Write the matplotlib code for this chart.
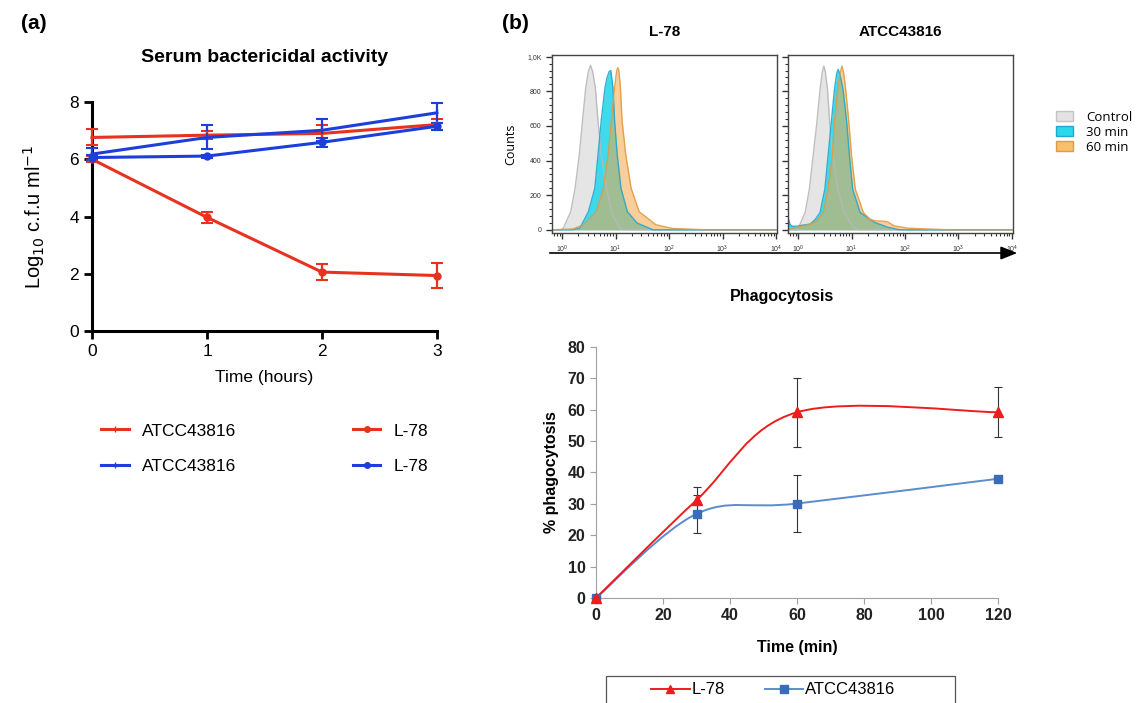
import matplotlib
matplotlib.use("Agg")
import matplotlib.pyplot as plt
from matplotlib.path import Path
from matplotlib.patches import PathPatch, Patch, Rectangle, FancyArrowPatch
from matplotlib.lines import Line2D
from matplotlib.ticker import MultipleLocator, FixedLocator, FixedFormatter, LogLocator, NullFormatter

plt.rcParams['font.family'] = ['Liberation Sans', 'DejaVu Sans']

# ---------------- (a) serum bactericidal activity ----------------
hours = [0, 1, 2, 3]
atcc_red = [6.76, 6.84, 6.90, 7.21]
atcc_red_err = [0.28, 0.15, 0.30, 0.20]
l78_red = [6.00, 3.97, 2.06, 1.94]
l78_red_err = [0.10, 0.20, 0.27, 0.43]
atcc_blue = [6.18, 6.76, 7.01, 7.62]
atcc_blue_err = [0.20, 0.42, 0.38, 0.36]
l78_blue = [6.06, 6.11, 6.59, 7.15]
l78_blue_err = [0.10, 0.05, 0.15, 0.12]

# ---------------- (b) flow cytometry histograms (log10 FL, counts) ----------------
l78_ctrl_x = [-0.2, -0.02, 0.02, 0.16, 0.24, 0.32, 0.38, 0.44, 0.49, 0.53, 0.57, 0.62, 0.67, 0.73, 0.83, 0.92, 1.07, 1.15, 4.0]
l78_ctrl_y = [0, 0, 10, 105, 240, 433, 630, 820, 915, 950, 915, 820, 630, 433, 240, 105, 10, 0, 0]
l78_30_x = [-0.2, 0.2, 0.33, 0.49, 0.61, 0.67, 0.73, 0.8, 0.84, 0.88, 0.91, 0.95, 0.98, 1.03, 1.1, 1.22, 1.4, 1.7, 4.0]
l78_30_y = [0, 0, 10, 105, 240, 433, 630, 820, 880, 915, 920, 820, 630, 433, 240, 105, 40, 0, 0]
l78_60_x = [-0.2, 0.2, 0.4, 0.64, 0.77, 0.86, 0.92, 0.98, 1.02, 1.04, 1.06, 1.09, 1.12, 1.19, 1.29, 1.44, 1.75, 2.06, 2.5, 2.7, 4.0]
l78_60_y = [0, 5, 30, 105, 240, 433, 630, 820, 920, 937, 920, 820, 630, 433, 240, 105, 30, 8, 3, 0, 0]

atcc_ctrl_x = [-0.2, 0.0, 0.01, 0.13, 0.21, 0.28, 0.35, 0.41, 0.45, 0.48, 0.51, 0.55, 0.59, 0.65, 0.74, 0.86, 1.04, 1.15, 4.0]
atcc_ctrl_y = [0, 0, 15, 100, 235, 427, 619, 811, 910, 946, 910, 811, 619, 427, 235, 100, 10, 0, 0]
atcc_30_x = [-0.2, -0.15, -0.1, 0.0, 0.1, 0.22, 0.32, 0.41, 0.5, 0.56, 0.62, 0.68, 0.72, 0.75, 0.78, 0.84, 0.91, 0.96, 1.02, 1.16, 1.44, 1.68, 1.9, 4.0]
atcc_30_y = [80, 30, 20, 22, 28, 33, 60, 100, 235, 427, 619, 811, 900, 927, 900, 811, 619, 427, 235, 100, 42, 15, 0, 0]
atcc_60_x = [-0.2, -0.1, 0.0, 0.22, 0.35, 0.47, 0.56, 0.64, 0.68, 0.74, 0.79, 0.82, 0.85, 0.89, 0.95, 1.0, 1.07, 1.22, 1.35, 1.44, 1.6, 1.68, 1.8, 2.05, 2.5, 2.9, 4.0]
atcc_60_y = [0, 10, 15, 33, 50, 100, 235, 427, 619, 811, 910, 946, 910, 811, 619, 427, 235, 100, 60, 52, 50, 45, 23, 10, 4, 0, 0]

# ---------------- (b) phagocytosis ----------------
minutes = [0, 30, 60, 120]
l78_phago = [0, 31.2, 59.2, 59.2]
l78_phago_err = [0, 4.2, 11.0, 8.0]
atcc_phago = [0, 26.8, 30.1, 38.0]
atcc_phago_err = [0, 6.0, 9.0, 1.0]

RED_A = '#e8321f'
BLUE_A = '#1c3fdc'

fig = plt.figure(figsize=(11.42, 7.03), dpi=100)
W, H = 1142, 703

# ================= panel (a) =================
ax = fig.add_axes([0.0806, 0.529, 0.302, 0.326])
for y, e, c, m, ms in [(atcc_red, atcc_red_err, RED_A, '|', 6),
                       (l78_red, l78_red_err, RED_A, 'o', 4.5),
                       (atcc_blue, atcc_blue_err, BLUE_A, '|', 6),
                       (l78_blue, l78_blue_err, BLUE_A, 'o', 4.5)]:
    ax.errorbar(hours, y, yerr=e, color=c, lw=2.2, marker=m, ms=ms, mew=1.5,
                capsize=4, capthick=1.6, elinewidth=1.6, clip_on=False, zorder=3)
ax.set_xlim(0, 3)
ax.set_ylim(0, 8)
ax.set_xticks([0, 1, 2, 3])
ax.set_yticks([0, 2, 4, 6, 8])
for s in ['top', 'right']:
    ax.spines[s].set_visible(False)
for s in ['left', 'bottom']:
    ax.spines[s].set_linewidth(2.2)
ax.tick_params(width=2, length=6, labelsize=12.5, direction='out')
ax.set_xlabel('Time (hours)', fontsize=12.5, labelpad=8)
ax.set_ylabel(r'Log$_{10}$ c.f.u ml$^{-1}$', fontsize=14.5, labelpad=16)
ax.set_title('Serum bactericidal activity', fontsize=14, fontweight='bold', pad=29)

handles_a = [Line2D([], [], color=RED_A, lw=2.2, marker='|', ms=5),
             Line2D([], [], color=BLUE_A, lw=2.2, marker='|', ms=5),
             Line2D([], [], color=RED_A, lw=2.2, marker='o', ms=4),
             Line2D([], [], color=BLUE_A, lw=2.2, marker='o', ms=4)]
fig.legend(handles_a, ['ATCC43816', 'ATCC43816', 'L-78', 'L-78'], ncol=2,
           loc='upper left', bbox_to_anchor=(0.075, 0.42), frameon=False,
           fontsize=12.5, handlelength=1.6, handletextpad=0.75, columnspacing=6.7,
           labelspacing=1.15)

fig.text(0.018, 0.967, '(a)', fontsize=15, fontweight='bold', va='center')
fig.text(0.44, 0.967, '(b)', fontsize=15, fontweight='bold', va='center')

# ================= panel (b) histograms =================
CTRL_FC, CTRL_EC = '#dddddd', '#b8b8b8'
C30_FC, C30_EC = '#2ad8ec', '#22a8cc'
C60_FC, C60_EC = '#f3a64a', '#e39a40'

def hist_panel(rect, title, ctrl, m30, m60, ylabels):
    h = fig.add_axes(rect)
    for (xs, ys), fc, ec, a in [(ctrl, CTRL_FC, CTRL_EC, 0.75),
                                (m30, C30_FC, C30_EC, 0.9),
                                (m60, C60_FC, C60_EC, 0.55)]:
        xv = [10 ** v for v in xs]
        h.fill_between(xv, ys, 0, color=fc, alpha=a, lw=0)
        h.plot(xv, ys, color=ec, lw=1.0, alpha=0.9)
    h.set_xscale('log')
    h.set_xlim(10 ** -0.19, 10 ** 4.02)
    h.set_ylim(-18, 1010)
    h.xaxis.set_major_locator(LogLocator(base=10, numticks=10))
    h.xaxis.set_minor_locator(LogLocator(base=10, subs=range(2, 10), numticks=10))
    h.xaxis.set_minor_formatter(NullFormatter())
    h.yaxis.set_major_locator(FixedLocator([0, 200, 400, 600, 800, 1000]))
    h.yaxis.set_minor_locator(MultipleLocator(40))
    if ylabels:
        h.yaxis.set_major_formatter(FixedFormatter(['0', '200', '400', '600', '800', '1,0K']))
    else:
        h.set_yticklabels([])
    for s in h.spines.values():
        s.set_color('#444444')
        s.set_linewidth(1.0)
    h.tick_params(which='major', labelsize=5, length=4, width=1, colors='#333333')
    h.tick_params(which='minor', length=2, width=0.8, colors='#333333')
    h.set_title(title, fontsize=11, fontweight='bold', pad=14)
    return h

h1 = hist_panel([0.4834, 0.6686, 0.197, 0.2532], 'L-78',
                (l78_ctrl_x, l78_ctrl_y), (l78_30_x, l78_30_y), (l78_60_x, l78_60_y), True)
h1.set_ylabel('Counts', fontsize=9, labelpad=7, fontfamily=['Open Sans', 'DejaVu Sans'])
h2 = hist_panel([0.690, 0.6686, 0.197, 0.2532], 'ATCC43816',
                (atcc_ctrl_x, atcc_ctrl_y), (atcc_30_x, atcc_30_y), (atcc_60_x, atcc_60_y), False)

fig.legend([Patch(fc=CTRL_FC, ec=CTRL_EC, alpha=0.8), Patch(fc=C30_FC, ec=C30_EC), Patch(fc='#f7bf6e', ec=C60_EC)],
           ['Control', '30 min', '60 min'], loc='upper left', bbox_to_anchor=(0.914, 0.859),
           frameon=False, handlelength=1.3, handleheight=0.8, labelspacing=0.15,
           prop={'family': ['Open Sans', 'DejaVu Sans'], 'size': 9.5}, handletextpad=1.0)

fig.patches.append(FancyArrowPatch(
    (547 / W, 1 - 253 / H), (1020 / W, 1 - 253 / H), transform=fig.transFigure,
    arrowstyle='-|>,head_length=10,head_width=4', color='black', lw=1.2, mutation_scale=1))
fig.text(782 / W, 1 - 297 / H, 'Phagocytosis', fontsize=11.5, fontweight='bold',
         ha='center', va='center')

# ================= panel (b) phagocytosis line chart =================
bx = fig.add_axes([0.5219, 0.1494, 0.352, 0.357])
RED_B = '#ee1c1c'
BLUE_B = '#5b8ccb'
BLUE_M = '#3b6cb8'

def smooth(xs, ys):
    pts = list(zip(xs, ys))
    verts = [pts[0]]
    codes = [Path.MOVETO]
    n = len(pts)
    for i in range(n - 1):
        p0 = pts[i - 1] if i > 0 else pts[i]
        p1, p2 = pts[i], pts[i + 1]
        p3 = pts[i + 2] if i + 2 < n else p2
        c1 = (p1[0] + (p2[0] - p0[0]) / 6, p1[1] + (p2[1] - p0[1]) / 6)
        c2 = (p2[0] - (p3[0] - p1[0]) / 6, p2[1] - (p3[1] - p1[1]) / 6)
        verts += [c1, c2, p2]
        codes += [Path.CURVE4] * 3
    return Path(verts, codes)

bx.add_patch(PathPatch(smooth(minutes, atcc_phago), fc='none', ec=BLUE_B, lw=1.4, zorder=2))
bx.add_patch(PathPatch(smooth(minutes, l78_phago), fc='none', ec=RED_B, lw=1.4, zorder=3))
for yv, ev in [(atcc_phago, atcc_phago_err), (l78_phago, l78_phago_err)]:
    eb = bx.errorbar(minutes, yv, yerr=ev, fmt='none', ecolor='#333333',
                     elinewidth=0.8, capsize=3, capthick=0.8, zorder=1)
    for art in eb.lines[1] + eb.lines[2]:
        art.set_clip_on(False)
bx.plot(minutes, atcc_phago, ls='none', marker='s', ms=6, color=BLUE_M, clip_on=False, zorder=4)
bx.plot(minutes, l78_phago, ls='none', marker='^', ms=6.5, color=RED_B, clip_on=False, zorder=4)
bx.set_xlim(0, 120)
bx.set_ylim(0, 80)
bx.set_xticks(range(0, 121, 20))
bx.set_yticks(range(0, 81, 10))
for s in ['top', 'right']:
    bx.spines[s].set_visible(False)
for s in ['left', 'bottom']:
    bx.spines[s].set_color('#a0a0a0')
bx.tick_params(colors='#a0a0a0', length=4, labelsize=11.5, labelcolor='#222222')
for lab in bx.get_xticklabels() + bx.get_yticklabels():
    lab.set_fontweight('bold')
bx.set_xlabel('Time (min)', fontsize=11.5, fontweight='bold', labelpad=12)
bx.set_ylabel('% phagocytosis', fontsize=11.5, fontweight='bold', labelpad=6)

handles_b = [Line2D([], [], color=RED_B, lw=1.4, marker='^', ms=6),
             Line2D([], [], color=BLUE_B, lw=1.4, marker='s', ms=5.5, mfc=BLUE_M, mec=BLUE_M)]
fig.legend(handles_b, ['L-78', 'ATCC43816'], ncol=2, loc='center',
           bbox_to_anchor=(773 / W, 1 - 690 / H), fontsize=12, frameon=False,
           handlelength=2.3, handletextpad=0.1, columnspacing=2.4, borderpad=0, borderaxespad=0)
fig.patches.append(Rectangle((606 / W, 1 - 712 / H), (955 - 606) / W, (712 - 676) / H,
                             transform=fig.transFigure, fc='none', ec='#555555', lw=0.9))

fig.savefig('out.png', dpi=100)
